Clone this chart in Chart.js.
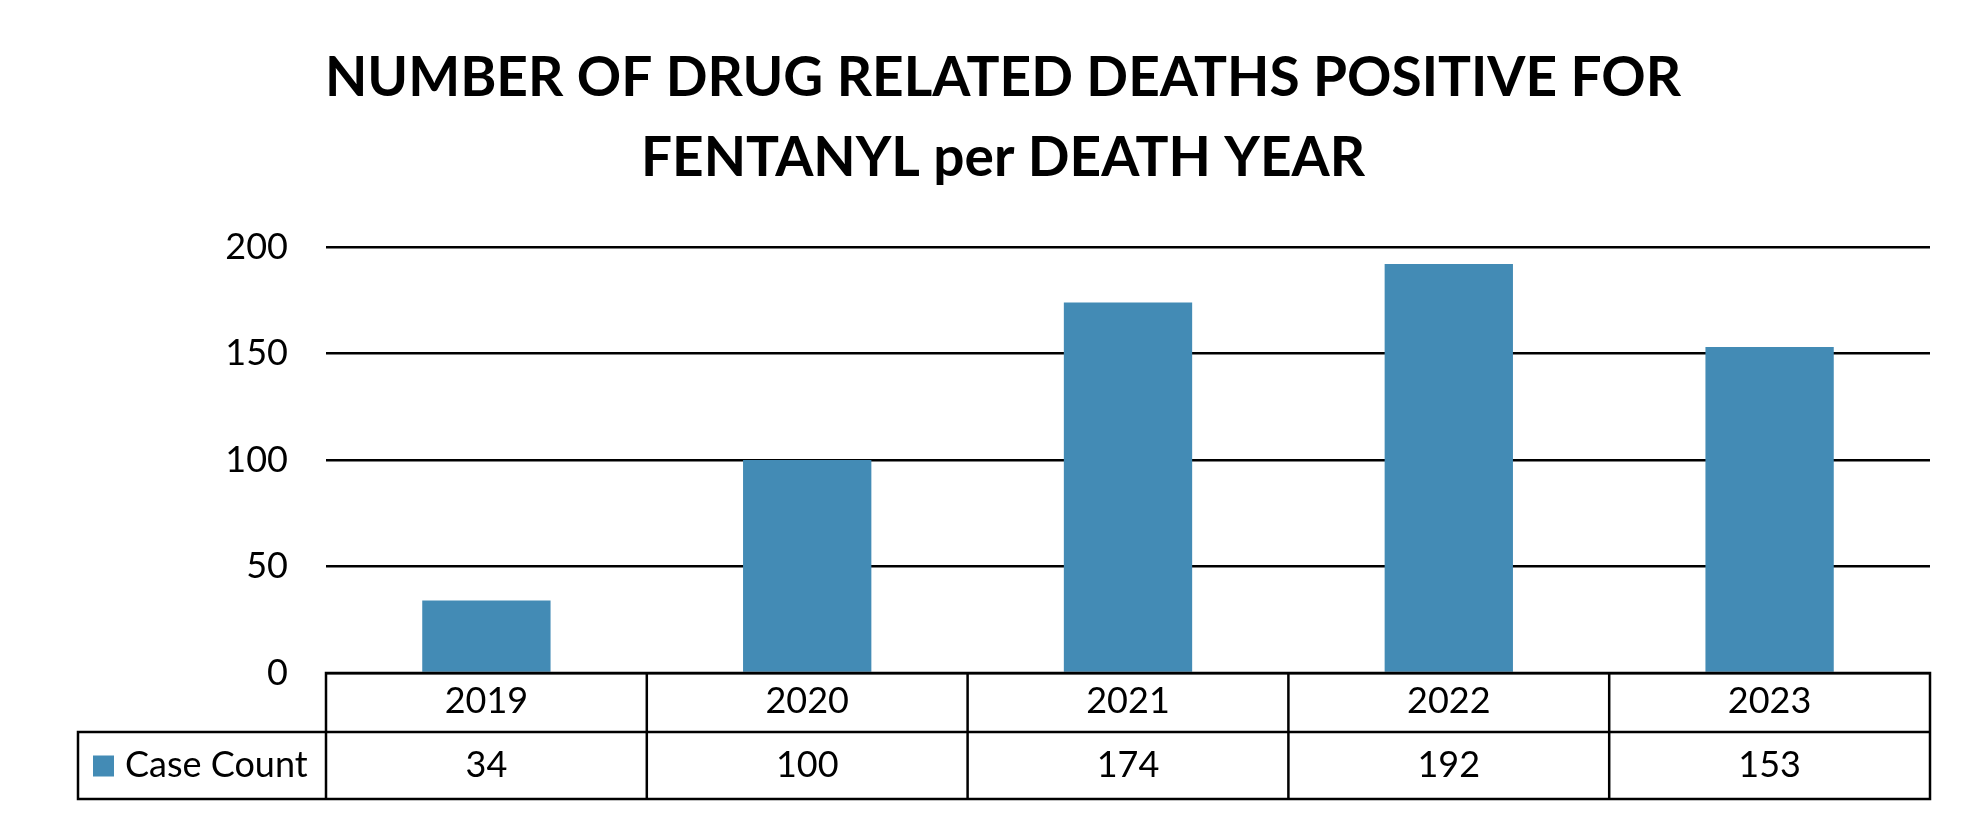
<!DOCTYPE html>
<html>
<head>
<meta charset="utf-8">
<script src="https://cdn.jsdelivr.net/npm/chart.js@4"></script>
<style>
  html, body { margin: 0; padding: 0; background: #ffffff; }
  #wrap { width: 1980px; height: 825px; }
</style>
</head>
<body>
<div id="wrap"><canvas id="c" width="1980" height="825"></canvas></div>
<script>
const titleLines = ["NUMBER OF DRUG RELATED DEATHS POSITIVE FOR", "FENTANYL per DEATH YEAR"];
const categories = ["2019", "2020", "2021", "2022", "2023"];
const seriesName = "Case Count";
const caseCount = [34, 100, 174, 192, 153];
const yTicks = [0, 50, 100, 150, 200];

const barColor = "#438BB5";
const FONT = "Lato, 'Open Sans', sans-serif";
const TEXT_SIZE = 36;

const tablePlugin = {
  id: "dataTable",
  afterDraw(chart) {
    const ctx = chart.ctx;
    const x = chart.scales.x;
    const area = chart.chartArea;
    const n = categories.length;
    const cw = (area.right - area.left) / n;
    const top = area.bottom;
    const mid = top + 59;
    const bot = top + 126;
    const legLeft = 78;
    ctx.save();
    ctx.strokeStyle = "#000";
    ctx.lineWidth = 2.5;
    ctx.lineCap = "square";
    ctx.beginPath();
    ctx.moveTo(area.left, top); ctx.lineTo(area.right, top);
    ctx.moveTo(legLeft, mid); ctx.lineTo(area.right, mid);
    ctx.moveTo(legLeft, bot); ctx.lineTo(area.right, bot);
    ctx.moveTo(legLeft, mid); ctx.lineTo(legLeft, bot);
    for (let i = 0; i <= n; i++) {
      const px = i < n ? x.getPixelForValue(i) - cw / 2 : x.getPixelForValue(n - 1) + cw / 2;
      ctx.moveTo(px, top); ctx.lineTo(px, bot);
    }
    ctx.stroke();
    ctx.fillStyle = "#000";
    ctx.font = TEXT_SIZE + "px " + FONT;
    ctx.textAlign = "center";
    ctx.textBaseline = "middle";
    const rowY = (mid + bot) / 2;
    caseCount.forEach((v, i) => {
      ctx.fillText(String(v), x.getPixelForValue(i), rowY);
    });
    ctx.fillStyle = barColor;
    ctx.fillRect(93, rowY - 10, 21, 21);
    ctx.fillStyle = "#000";
    ctx.textAlign = "left";
    ctx.fillText(seriesName, 125, rowY);
    ctx.restore();
  }
};

new Chart(document.getElementById("c"), {
  type: "bar",
  data: {
    labels: categories,
    datasets: [{
      label: seriesName,
      data: caseCount,
      backgroundColor: barColor,
      borderWidth: 0,
      categoryPercentage: 0.8,
      barPercentage: 0.5
    }]
  },
  options: {
    responsive: false,
    animation: false,
    devicePixelRatio: 1,
    layout: { padding: { left: 76, right: 50, top: 0, bottom: 26 } },
    plugins: {
      legend: { display: false },
      tooltip: { enabled: false },
      title: {
        display: true,
        text: titleLines,
        color: "#000",
        font: { family: FONT, size: 55, weight: "bold", lineHeight: 80 / 55 },
        padding: { top: 38, bottom: 49 }
      }
    },
    scales: {
      x: {
        grid: { display: false, drawTicks: false },
        border: { display: false },
        ticks: { color: "#000", font: { family: FONT, size: TEXT_SIZE }, padding: 7, maxRotation: 0 },
        afterFit(s) { s.height = 126; }
      },
      y: {
        min: 0, max: 200,
        afterBuildTicks(s) { s.ticks = yTicks.map(v => ({ value: v })); },
        grid: { color: "#000", lineWidth: 2.5, drawTicks: false },
        border: { display: false },
        ticks: { color: "#000", font: { family: FONT, size: TEXT_SIZE }, padding: 38 },
        afterFit(s) { s.width = 250; }
      }
    }
  },
  plugins: [tablePlugin]
});
</script>
</body>
</html>
